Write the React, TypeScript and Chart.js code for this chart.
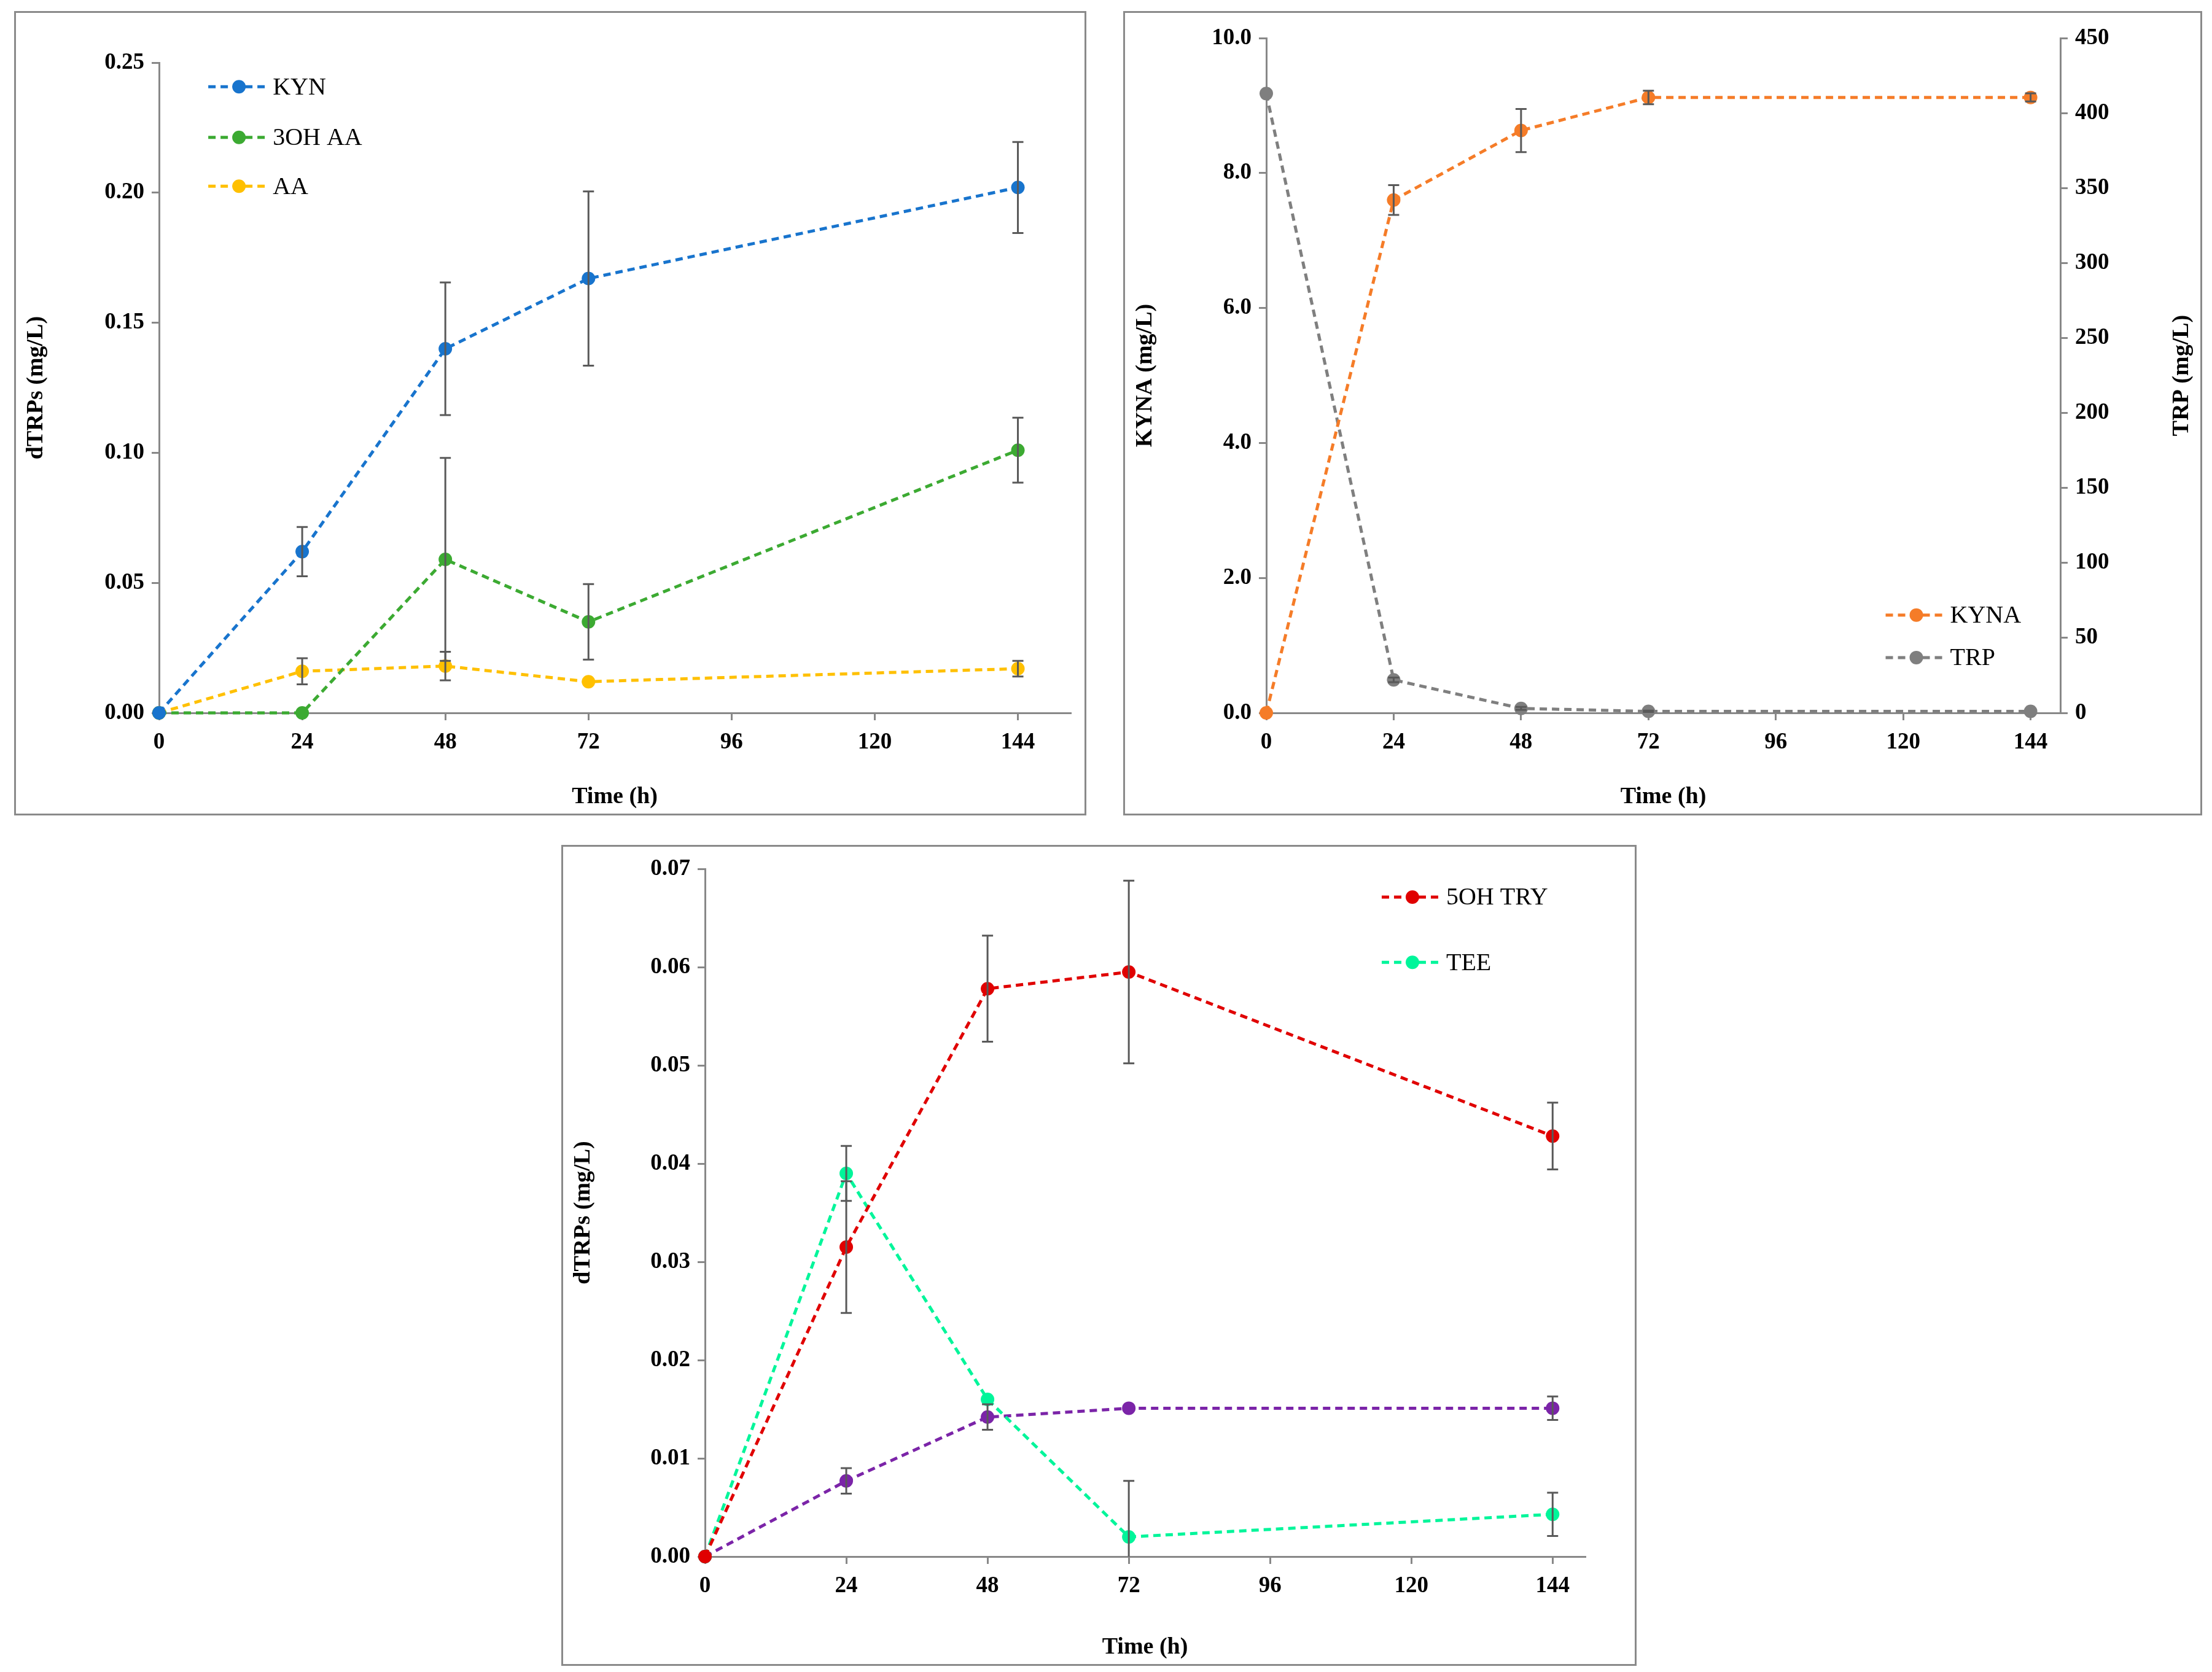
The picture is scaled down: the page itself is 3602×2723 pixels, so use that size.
import React, { useEffect, useRef } from "react";
import { Chart, registerables } from "chart.js";
Chart.register(...registerables);

const hours = [0, 24, 48, 72, 144];
const xTicks = [0, 24, 48, 72, 96, 120, 144];

const kyn = [0, 0.062, 0.14, 0.167, 0.202];
const kynErr = [0, 0.0095, 0.0255, 0.0335, 0.0175];
const ohaa = [0, 0, 0.059, 0.035, 0.101];
const ohaaErr = [0, 0, 0.039, 0.0145, 0.0125];
const aa = [0, 0.016, 0.018, 0.012, 0.017];
const aaErr = [0, 0.005, 0.0055, 0, 0.003];

const kyna = [0, 7.6, 8.63, 9.12, 9.12];
const kynaErr = [0, 0.22, 0.32, 0.1, 0.06];
const trp = [413, 22, 3, 1, 1];
const trpErr = [0, 1.5, 1, 0.5, 0];

const ohtry = [0, 0.0315, 0.0578, 0.0595, 0.0428];
const ohtryErr = [0, 0.0067, 0.0054, 0.0093, 0.0034];
const tee = [0, 0.039, 0.016, 0.002, 0.0043];
const teeErr = [0, 0.0028, 0, 0.0057, 0.0022];
const purple = [0, 0.0077, 0.0142, 0.0151, 0.0151];
const purpleErr = [0, 0.0013, 0.0013, 0, 0.0012];

const FONT = "'Liberation Serif', 'DejaVu Serif', serif";

const errPlugin = {
  id: "errbars",
  afterDatasetsDraw(chart: any) {
    const ctx = chart.ctx;
    const a = chart.chartArea;
    ctx.save();
    ctx.beginPath();
    ctx.rect(a.left - 20, a.top - 20, a.right - a.left + 40, a.bottom - a.top + 20);
    ctx.clip();
    ctx.strokeStyle = "#595959";
    ctx.lineWidth = 3;
    chart.data.datasets.forEach((ds: any) => {
      const ys = chart.scales[ds.yAxisID || "y"];
      const xs = chart.scales.x;
      ds.data.forEach((p: any, i: number) => {
        const e = ds.err ? ds.err[i] : 0;
        if (!e) return;
        const x = xs.getPixelForValue(p.x);
        const y1 = ys.getPixelForValue(p.y + e);
        const y2 = ys.getPixelForValue(Math.max(0, p.y - e));
        ctx.beginPath();
        ctx.moveTo(x, y1); ctx.lineTo(x, y2);
        ctx.moveTo(x - 9, y1); ctx.lineTo(x + 9, y1);
        if (p.y - e > 0) { ctx.moveTo(x - 9, y2); ctx.lineTo(x + 9, y2); }
        ctx.stroke();
      });
    });
    ctx.restore();
  },
};

const legendPlugin = {
  id: "innerLegend",
  afterDraw(chart: any) {
    const o = chart.options.plugins.innerLegend;
    if (!o) return;
    const a = chart.chartArea;
    const ctx = chart.ctx;
    ctx.save();
    const x0 = a.left + o.x * (a.right - a.left);
    let idx = 0;
    chart.data.datasets.forEach((ds: any) => {
      if (!ds.label) return;
      const y = a.top + o.ys[idx++] * (a.bottom - a.top);
      ctx.strokeStyle = ds.borderColor;
      ctx.lineWidth = 5;
      ctx.setLineDash([12, 8]);
      ctx.beginPath();
      ctx.moveTo(x0, y); ctx.lineTo(x0 + 92, y);
      ctx.stroke();
      ctx.setLineDash([]);
      ctx.fillStyle = ds.borderColor;
      ctx.beginPath();
      ctx.arc(x0 + 50, y, 11, 0, Math.PI * 2);
      ctx.fill();
      ctx.fillStyle = "#000";
      ctx.font = `40px ${FONT}`;
      ctx.textBaseline = "middle";
      ctx.fillText(ds.label, x0 + 105, y + 2);
    });
    if (o.rightTitle) {
      const s = chart.scales.y2;
      ctx.translate(s.right - 30, (a.top + a.bottom) / 2);
      ctx.rotate(-Math.PI / 2);
      ctx.font = `bold 38px ${FONT}`;
      ctx.textAlign = "center";
      ctx.textBaseline = "middle";
      ctx.fillText(o.rightTitle, 0, 0);
    }
    ctx.restore();
  },
};

function mk(label: string, color: string, ys: number[], err: number[], axis = "y") {
  return {
    label,
    data: hours.map((h, i) => ({ x: h, y: ys[i] })),
    err,
    yAxisID: axis,
    borderColor: color,
    backgroundColor: color,
    borderWidth: 5,
    borderDash: [12, 8],
    pointRadius: 11,
    pointBorderWidth: 0,
    pointBackgroundColor: color,
    showLine: true,
    clip: false,
  };
}

const tickFont = { family: FONT, size: 37, weight: "bold" as const };
const titleFont = { family: FONT, size: 38, weight: "bold" as const };
const axisGrid = { display: true, drawOnChartArea: false, drawTicks: true, tickLength: 12, color: "#888", lineWidth: 3 };
const axisBorder = { display: true, color: "#888", width: 3 };

function xScale(max: number, h: number) {
  return {
    type: "linear",
    min: 0,
    max,
    afterBuildTicks: (s: any) => { s.ticks = xTicks.map((v) => ({ value: v })); },
    afterFit: (s: any) => { s.height = h; },
    ticks: { font: tickFont, color: "#000", padding: 14, autoSkip: false, maxRotation: 0 },
    grid: axisGrid,
    border: axisBorder,
    title: { display: true, text: "Time (h)", font: titleFont, color: "#000", padding: { top: 0 } },
  };
}

function yScale(max: number, step: number, dec: number, title: string, w: number, pos = "left") {
  return {
    type: "linear",
    position: pos,
    min: 0,
    max,
    afterFit: (s: any) => { s.width = w; },
    ticks: { stepSize: step, font: tickFont, color: "#000", padding: 12, callback: (v: any) => Number(v).toFixed(dec) },
    grid: axisGrid,
    border: axisBorder,
    title: { display: !!title, text: title, font: titleFont, color: "#000", padding: { bottom: 10, top: 10 } },
  };
}

function Panel(props: { left: number; top: number; w: number; h: number; config: any }) {
  const ref = useRef<HTMLCanvasElement>(null);
  useEffect(() => {
    const c = new Chart(ref.current!, props.config);
    return () => c.destroy();
  }, []);
  return (
    <div style={{ position: "absolute", left: props.left, top: props.top, width: props.w, height: props.h, border: "3px solid #8a8a8a", boxSizing: "border-box", background: "#fff" }}>
      <canvas ref={ref} width={props.w - 6} height={props.h - 6} style={{ display: "block" }} />
    </div>
  );
}

const base = (pad: any, legend: any, scales: any) => ({
  type: "scatter",
  options: {
    responsive: false,
    animation: false,
    devicePixelRatio: 1,
    layout: { padding: pad },
    plugins: { legend: { display: false }, tooltip: { enabled: false }, innerLegend: legend },
    scales,
  },
  plugins: [errPlugin, legendPlugin],
});

const cfgA: any = {
  ...base({ top: 81, right: 23, left: 0, bottom: 0 }, { x: 0.054, ys: [0.037, 0.115, 0.19] }, {
    x: xScale(152.8, 164),
    y: yScale(0.25, 0.05, 2, "dTRPs (mg/L)", 233),
  }),
  data: { datasets: [mk("KYN", "#1874CD", kyn, kynErr), mk("3OH AA", "#3CAA32", ohaa, ohaaErr), mk("AA", "#FFC000", aa, aaErr)] },
};

const cfgB: any = {
  ...base({ top: 41, right: 0, left: 0, bottom: 0 }, { x: 0.78, ys: [0.855, 0.918], rightTitle: "TRP (mg/L)" }, {
    x: xScale(149.6, 164),
    y: yScale(10, 2, 1, "KYNA (mg/L)", 230),
    y2: yScale(450, 50, 0, "", 228, "right"),
  }),
  data: { datasets: [mk("KYNA", "#F57C28", kyna, kynaErr), mk("TRP", "#7F7F7F", trp, trpErr, "y2")] },
};

const cfgC: any = {
  ...base({ top: 36, right: 81, left: 0, bottom: 0 }, { x: 0.769, ys: [0.041, 0.136] }, {
    x: xScale(149.5, 175),
    y: yScale(0.07, 0.01, 2, "dTRPs (mg/L)", 231),
  }),
  data: { datasets: [mk("5OH TRY", "#E00000", ohtry, ohtryErr), mk("TEE", "#00F59A", tee, teeErr), mk("", "#7B24A8", purple, purpleErr)] },
};

export default function App() {
  return (
    <div style={{ position: "absolute", left: 0, top: 0, width: 3602, height: 2723, background: "#fff" }}>
      <Panel left={23} top={18} w={1746} h={1310} config={cfgA} />
      <Panel left={1829} top={18} w={1757} h={1310} config={cfgB} />
      <Panel left={914} top={1376} w={1751} h={1337} config={cfgC} />
    </div>
  );
}
